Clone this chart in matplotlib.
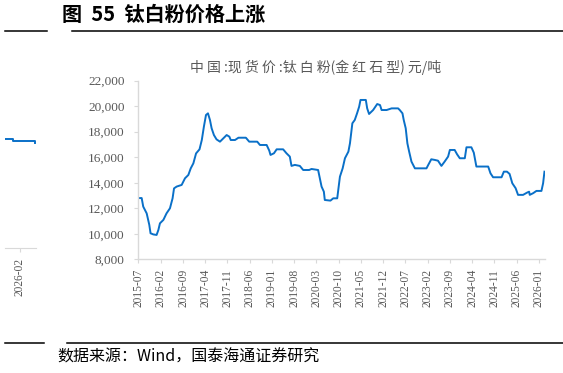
import matplotlib
matplotlib.use("Agg")
import matplotlib.pyplot as plt
from matplotlib.lines import Line2D
import pandas as pd

plt.rcParams['font.family'] = ['Noto Sans CJK SC', 'DejaVu Sans']

# 中国:现货价:钛白粉(金红石型), 元/吨
dates = [
    '2015-07-01', '2015-08-02', '2015-08-17', '2015-09-19', '2015-10-14', '2015-10-26',
    '2015-11-22', '2015-12-23', '2016-01-09', '2016-01-24', '2016-02-26', '2016-03-27',
    '2016-04-29', '2016-05-24', '2016-06-07', '2016-07-02', '2016-08-19', '2016-09-20',
    '2016-10-22', '2016-11-14', '2016-12-09', '2017-01-04', '2017-02-06', '2017-02-28',
    '2017-03-20', '2017-04-09', '2017-04-28', '2017-05-17', '2017-06-02', '2017-06-24',
    '2017-07-19', '2017-08-21', '2017-09-22', '2017-10-24', '2017-11-19', '2017-12-02',
    '2018-01-12', '2018-02-14', '2018-04-26', '2018-05-28', '2018-08-13', '2018-09-08',
    '2018-11-11', '2018-12-06', '2018-12-18', '2019-01-20', '2019-02-15', '2019-04-18',
    '2019-05-20', '2019-06-21', '2019-07-07', '2019-08-08', '2019-09-25', '2019-10-27',
    '2019-12-23', '2020-01-15', '2020-03-18', '2020-04-04', '2020-04-20', '2020-05-12',
    '2020-05-21', '2020-07-14', '2020-08-10', '2020-09-17', '2020-10-01', '2020-10-13',
    '2020-11-08', '2020-11-30', '2021-01-02', '2021-01-17', '2021-02-09', '2021-03-04',
    '2021-03-26', '2021-04-15', '2021-04-28', '2021-06-18', '2021-07-01', '2021-07-19',
    '2021-08-27', '2021-10-05', '2021-11-01', '2021-11-16', '2022-01-03', '2022-02-20',
    '2022-04-23', '2022-05-09', '2022-06-04', '2022-06-16', '2022-07-05', '2022-07-21',
    '2022-08-07', '2022-08-29', '2022-10-01', '2023-01-20', '2023-02-06', '2023-03-07',
    '2023-04-09', '2023-05-10', '2023-06-12', '2023-07-13', '2023-08-15', '2023-09-01',
    '2023-10-17', '2023-11-09', '2023-12-05', '2024-01-22', '2024-02-07', '2024-03-25',
    '2024-04-17', '2024-05-12', '2024-09-02', '2024-09-24', '2024-10-19', '2025-01-08',
    '2025-01-30', '2025-03-01', '2025-03-26', '2025-04-21', '2025-05-23', '2025-06-15',
    '2025-08-02', '2025-09-10', '2025-09-29', '2025-10-05', '2025-11-06', '2025-12-08',
    '2026-01-25', '2026-02-10', '2026-02-23',
]
prices = [
    12800, 12800, 12130, 11600, 10700, 10040,
    9950, 9910, 10300, 10820, 11090, 11600,
    12000, 12780, 13560, 13700, 13830, 14350,
    14610, 15130, 15520, 16300, 16620, 17350,
    18400, 19310, 19440, 18920, 18270, 17740,
    17400, 17220, 17480, 17740, 17610, 17350,
    17350, 17530, 17530, 17220, 17220, 16960,
    16960, 16520, 16180, 16310, 16620, 16620,
    16310, 16050, 15320, 15400, 15320, 15000,
    15000, 15080, 15000, 14350, 13700, 13300,
    12650, 12600, 12780, 12780, 13700, 14480,
    15130, 15920, 16440, 17090, 18660, 18920,
    19440, 19960, 20490, 20490, 19830, 19390,
    19700, 20170, 20090, 19700, 19700, 19830,
    19830, 19700, 19440, 18920, 18270, 17090,
    16440, 15660, 15130, 15130, 15400, 15840,
    15790, 15730, 15320, 15660, 16050, 16570,
    16570, 16230, 15920, 15920, 16780, 16780,
    16360, 15270, 15270, 14740, 14430, 14430,
    14870, 14870, 14690, 13960, 13570, 13050,
    13050, 13230, 13300, 13050, 13180, 13360,
    13360, 13960, 14870,
]
tick_labels = ['2015-07', '2016-02', '2016-09', '2017-04', '2017-11', '2018-06', '2019-01',
               '2019-08', '2020-03', '2020-10', '2021-05', '2021-12', '2022-07', '2023-02',
               '2023-09', '2024-04', '2024-11', '2025-06', '2026-01']
y_ticks = [8000, 10000, 12000, 14000, 16000, 18000, 20000, 22000]

# edge of the neighbouring chart that shows on the left
frag_dates = ['2025-12-20', '2026-01-12', '2026-03-05', '2026-03-18']
frag_prices = [17100, 16980, 16980, 16770]

blue = '#0a70c8'
grey = '#595959'
axis_grey = '#d9d9d9'
serif = 'Liberation Serif'

fig = plt.figure(figsize=(5.63, 3.73), dpi=100)

ax = fig.add_axes([0.2457, 0.3048, 0.7223, 0.4789])
ax.plot(pd.to_datetime(dates), prices, color=blue, lw=1.4)
ax.set_xlim(pd.Timestamp('2015-07-01'), pd.Timestamp('2026-02-28'))
ax.set_ylim(8000, 22000)
ax.set_yticks(y_ticks)
ax.set_yticklabels([f'{v:,}' for v in y_ticks], fontfamily=serif, fontsize=9.5, color=grey)
ax.set_xticks(pd.to_datetime([t + '-01' for t in tick_labels]))
ax.set_xticklabels(tick_labels, rotation=90, fontfamily=serif, fontsize=8.3, color=grey)
for s in ['top', 'right']:
    ax.spines[s].set_visible(False)
for s in ['left', 'bottom']:
    ax.spines[s].set_color(axis_grey)
    ax.spines[s].set_linewidth(1.0)
ax.tick_params(axis='both', length=3, width=0.8, color=axis_grey)
ax.tick_params(axis='y', pad=7)
ax.tick_params(axis='x', pad=4)

fig.text(0.56, 0.82, '中 国 :现 货 价 :钛 白 粉(金 红 石 型) 元/吨', ha='center', va='center',
         fontsize=10, color=grey)

# fragment axes
ax2 = fig.add_axes([5 / 563, (373 - 248) / 373, 31 / 563, (248 - 80.7) / 373])
ax2.plot(pd.to_datetime(frag_dates), frag_prices, color=blue, lw=1.4, drawstyle='steps-post')
ax2.set_xlim(pd.Timestamp('2025-12-20'), pd.Timestamp('2026-03-20'))
ax2.set_ylim(8000, 22000)
ax2.set_yticks([])
ax2.set_xticks([pd.Timestamp('2026-02-01')])
ax2.set_xticklabels(['2026-02'], rotation=90, fontfamily=serif, fontsize=8.3, color=grey)
for s in ['top', 'right', 'left']:
    ax2.spines[s].set_visible(False)
ax2.spines['bottom'].set_color(axis_grey)
ax2.tick_params(axis='x', length=3, width=0.8, color=axis_grey, pad=4)

# page title, rules and source
fig.text(62 / 563, 0.963, '图  55  钛白粉价格上涨', ha='left', va='center',
         fontsize=14.5, fontweight='bold', color='black')
for x0, x1, y in [(5, 47, 31), (72, 563, 31), (5, 44, 343), (67, 563, 343)]:
    fig.add_artist(Line2D([x0 / 563, x1 / 563], [(373 - y) / 373] * 2,
                          color='black', lw=1.1, transform=fig.transFigure))
fig.text(57 / 563, (373 - 357) / 373, '数据来源：Wind，国泰海通证券研究', ha='left',
         va='center', fontsize=11.5, color='black')

fig.savefig('out.png', dpi=100)
